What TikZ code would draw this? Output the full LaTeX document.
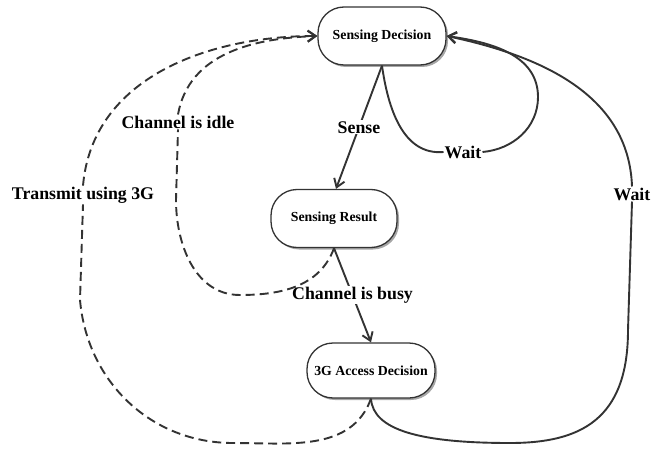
\documentclass[tikz,border=0pt]{standalone}
\usepackage{fontspec}
\setmainfont{Liberation Serif}
\usetikzlibrary{arrows.meta,shadows}
\definecolor{edgegray}{HTML}{333333}
\tikzset{
  state/.style={draw=edgegray, line width=1.3pt, fill=white, rounded corners=26pt,
    minimum width=128pt, minimum height=58pt, inner sep=2pt,
    font=\fontsize{13.8}{15}\selectfont\bfseries,
    drop shadow={shadow xshift=2pt, shadow yshift=-2pt, fill=gray!70, opacity=1}},
  lbl/.style={fill=white, inner sep=1pt, font=\fontsize{17.8}{19}\selectfont\bfseries},
  flow/.style={draw=edgegray, line width=1.9pt, -{Straight Barb[length=8pt,width=11pt]}},
  plain/.style={draw=edgegray, line width=1.9pt},
  dashline/.style={dash pattern=on 9pt off 5pt}
}
\begin{document}
\begin{tikzpicture}[x=1pt, y=1pt]
\useasboundingbox (0,0) rectangle (652,-449);

% Draw the states
\node[state] (sd) at (382,-36) {Sensing Decision};
\node[state, minimum width=126pt] (sr) at (334,-218.5) {Sensing Result};
\node[state, minimum height=55pt] (ad) at (371,-370.5) {3G Access Decision};

% Labels that cut the curved connectors
\node[lbl] (wait1) at (463,-152) {Wait};
\node[lbl] (wait2) at (632,-194) {Wait};
\node[lbl] (idle) at (178,-122) {Channel is idle};
\node[lbl] (tx) at (83,-195) {Transmit using 3G};

% Straight transitions
\draw[flow] (sd.south) -- node[lbl] {Sense} ([xshift=2pt]sr.north);
\draw[flow] (sr.south) -- node[lbl] {Channel is busy} (ad.north);

% Wait loops
\draw[plain] (sd.south) to[out=-82,in=185] (wait1.west);
\draw[flow] (wait1.east) to[out=5,in=-90] (538,-97) to[out=90,in=-8] (sd.east);
\draw[plain] (ad.south) .. controls (373,-430) and (420,-443) .. (510,-443)
  .. controls (580,-443) and (628,-420) .. (628,-330) -- (wait2.south);
\draw[flow] (wait2.north) to[out=92,in=-12] (sd.east);

% Dashed transitions back to the sensing decision
\draw[plain, dashline] (sr.south) to[out=-110,in=0] (240,-295)
  to[out=180,in=-90] (176,-200) -- (idle.south);
\draw[flow, dashline] (idle.north) to[out=80,in=182] (sd.west);
\draw[plain, dashline] (ad.south) to[out=-110,in=0] (233,-443)
  to[out=180,in=-85] (80,-300) -- (tx.south);
\draw[flow, dashline] (tx.north) to[out=85,in=180] (sd.west);
\end{tikzpicture}
\end{document}
